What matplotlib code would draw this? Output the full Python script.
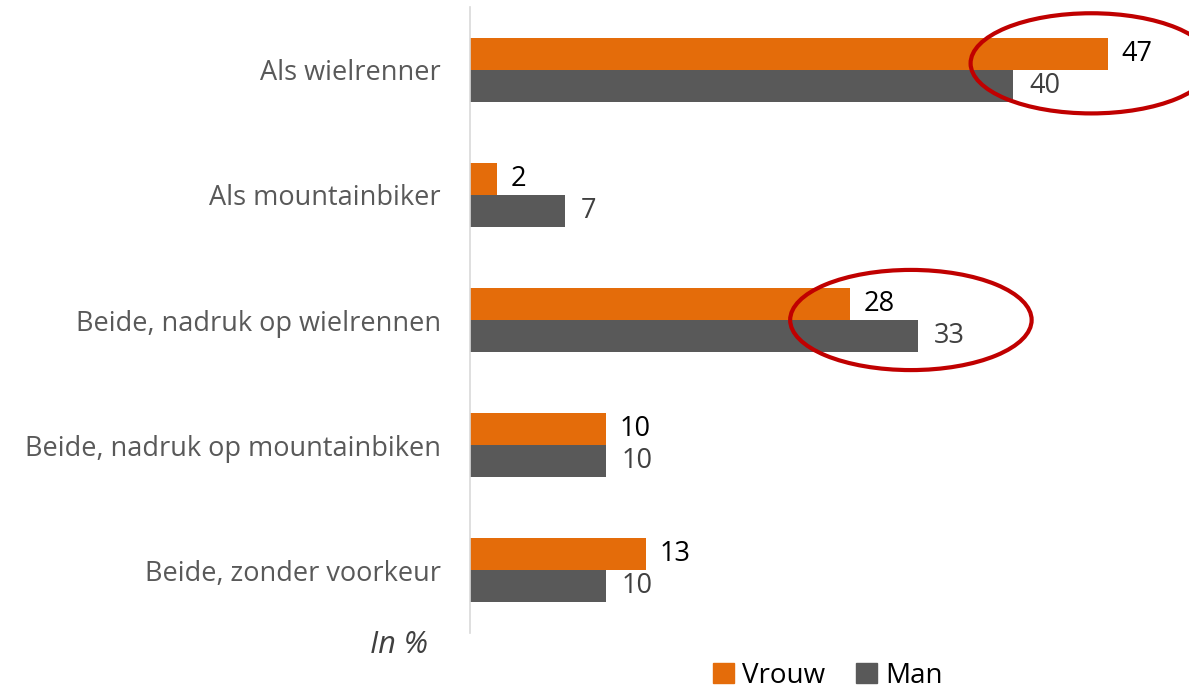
import matplotlib
matplotlib.use("Agg")
import matplotlib.pyplot as plt
from matplotlib.patches import Ellipse, Patch
import numpy as np

categories = ["Als wielrenner", "Als mountainbiker", "Beide, nadruk op wielrennen",
              "Beide, nadruk op mountainbiken", "Beide, zonder voorkeur"]
vrouw = [47, 2, 28, 10, 13]
man = [40, 7, 33, 10, 10]
highlight = [0, 2]  # groups circled in red

ORANGE = "#E46C0A"
GREY = "#595959"

plt.rcParams["font.family"] = ["Open Sans", "DejaVu Sans"]

fig = plt.figure(figsize=(11.89, 6.91), dpi=100)
ax = fig.add_axes([470 / 1189, 1 - 633 / 691, 1 - 470 / 1189, 626 / 691])

y = np.arange(len(categories))
h = 0.256
ax.barh(y - h / 2, vrouw, height=h, color=ORANGE)
ax.barh(y + h / 2, man, height=h, color=GREY)

for yi, v in zip(y, vrouw):
    ax.text(v + 1.0, yi - h / 2, str(v), va="center", ha="left", fontsize=19.5, color="black")
for yi, v in zip(y, man):
    ax.text(v + 1.2, yi + h / 2, str(v), va="center", ha="left", fontsize=19.5, color="#404040")

# red ellipses round the bar ends
for i, dy in zip(highlight, [-0.05, 0.0]):
    cx = max(vrouw[i], man[i]) - 0.5 - (vrouw[i] - man[i] if vrouw[i] > man[i] else 0) * 0.1
    ax.add_patch(Ellipse((cx, i + dy), width=17.8, height=0.8, fill=False,
                         edgecolor="#C00000", linewidth=3, clip_on=False))

ax.set_xlim(0, 53)
ax.set_ylim(len(categories) - 0.5, -0.5)
ax.set_yticks(y)
ax.set_yticklabels(categories, fontsize=19.5, color=GREY)
ax.tick_params(axis="y", length=0, pad=21)
ax.set_xticks([])
for s in ["top", "right", "bottom"]:
    ax.spines[s].set_visible(False)
ax.spines["left"].set_color("#D9D9D9")
ax.spines["left"].set_linewidth(1.2)

fig.text(399 / 1189, 1 - 645 / 691, "In %", fontsize=22, style="italic",
         color="#404040", ha="center", va="center")

handles = [Patch(color=ORANGE, label="Vrouw"), Patch(color=GREY, label="Man")]
fig.legend(handles=handles, loc="center", bbox_to_anchor=(828 / 1189, 1 - 676 / 691),
           ncol=2, frameon=False, fontsize=20, handlelength=0.75, handleheight=0.75,
           handletextpad=0.3, columnspacing=1.1)

fig.savefig("out.png", dpi=100)
